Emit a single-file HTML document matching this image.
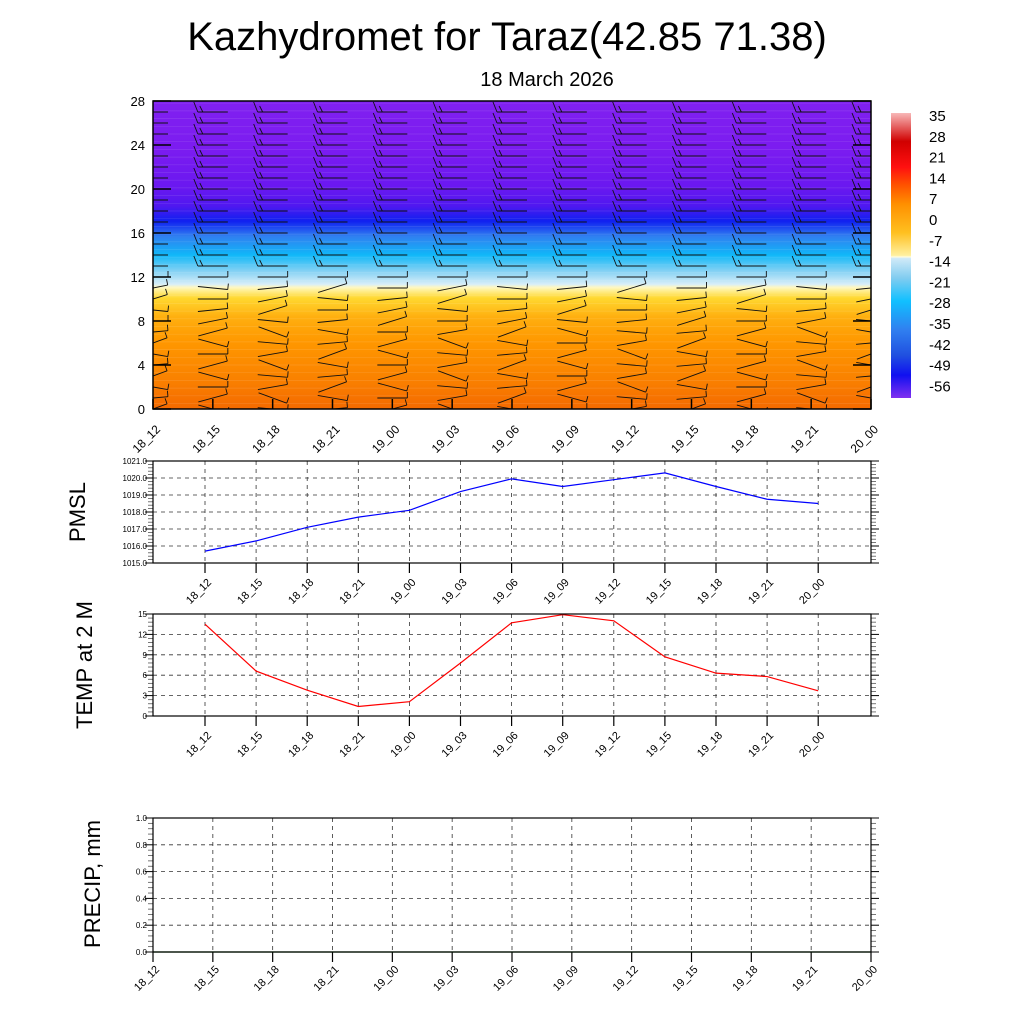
<!DOCTYPE html>
<html><head><meta charset="utf-8">
<style>
body{margin:0;background:#fff;}
svg{display:block;font-family:"Liberation Sans",sans-serif;}
</style></head>
<body>
<svg id="svg" width="1024" height="1024" viewBox="0 0 1024 1024" xmlns="http://www.w3.org/2000/svg">
<defs>
<clipPath id="tclip"><rect x="153" y="101" width="718" height="308"/></clipPath>
<linearGradient id="tg" x1="0" y1="1" x2="0" y2="0">
<stop offset="0" stop-color="#f46a00"/>
<stop offset="0.1" stop-color="#fa8200"/>
<stop offset="0.22" stop-color="#ff9800"/>
<stop offset="0.3" stop-color="#ffb010"/>
<stop offset="0.36" stop-color="#ffd830"/>
<stop offset="0.395" stop-color="#fff8c0"/>
<stop offset="0.405" stop-color="#d8eef8"/>
<stop offset="0.45" stop-color="#80d0f4"/>
<stop offset="0.5" stop-color="#10b8f8"/>
<stop offset="0.56" stop-color="#3080f0"/>
<stop offset="0.61" stop-color="#1020f0"/>
<stop offset="0.66" stop-color="#5018f0"/>
<stop offset="0.72" stop-color="#6a18f0"/>
<stop offset="0.85" stop-color="#7c1cf0"/>
<stop offset="1" stop-color="#8020f0"/>
</linearGradient>
<linearGradient id="cg" x1="0" y1="0" x2="0" y2="1">
<stop offset="0" stop-color="#f8b8b8"/>
<stop offset="0.1" stop-color="#d00000"/>
<stop offset="0.19" stop-color="#ff1010"/>
<stop offset="0.25" stop-color="#ff5000"/>
<stop offset="0.32" stop-color="#ff9000"/>
<stop offset="0.42" stop-color="#ffc020"/>
<stop offset="0.5" stop-color="#fff0a0"/>
<stop offset="0.505" stop-color="#fffde0"/>
<stop offset="0.51" stop-color="#d0eaf8"/>
<stop offset="0.58" stop-color="#80ccf0"/>
<stop offset="0.66" stop-color="#10c0ff"/>
<stop offset="0.76" stop-color="#3080f0"/>
<stop offset="0.85" stop-color="#2050e0"/>
<stop offset="0.92" stop-color="#1010f0"/>
<stop offset="1" stop-color="#8030f0"/>
</linearGradient>
<radialGradient id="hot" cx="0.5" cy="1" r="0.5"><stop offset="0" stop-color="#f05000" stop-opacity="0.8"/><stop offset="1" stop-color="#f05000" stop-opacity="0"/></radialGradient>
</defs>
<text x="507" y="50" font-size="40" text-anchor="middle">Kazhydromet for Taraz(42.85 71.38)</text>
<text x="547" y="86" font-size="20" text-anchor="middle">18 March 2026</text>
<g id="topPanel"></g>
<g id="cbar"></g>
<g id="pmsl"></g>
<g id="temp"></g>
<g id="precip"></g>
</svg>
<script>
const times = ["18_12","18_15","18_18","18_21","19_00","19_03","19_06","19_09","19_12","19_15","19_18","19_21","20_00"];
const pmslVals = [1015.7,1016.3,1017.1,1017.7,1018.1,1019.2,1019.95,1019.5,1019.9,1020.3,1019.5,1018.75,1018.5];
const tempVals = [13.5,6.6,3.8,1.4,2.1,7.8,13.7,14.9,14.0,8.7,6.3,5.8,3.7];
const precipVals = [0,0,0,0,0,0,0,0,0,0,0,0,0];
const pmslTicks = ["1015.0","1016.0","1017.0","1018.0","1019.0","1020.0","1021.0"];
const tempTicks = [0,3,6,9,12,15];
const precipTicks = ["0.0","0.2","0.4","0.6","0.8","1.0"];
const heightTicks = [0,4,8,12,16,20,24,28];
const cbarLabels = [35,28,21,14,7,0,-7,-14,-21,-28,-35,-42,-49,-56];

const NS="http://www.w3.org/2000/svg";
function mk(parent,tag,attrs,txt){const e=document.createElementNS(NS,tag);for(const k in attrs)e.setAttribute(k,attrs[k]);if(txt!==undefined)e.textContent=txt;parent.appendChild(e);return e;}

// ---- top panel ----
const topG=document.getElementById('topPanel');
const TX0=153,TX1=871,TY0=101,TY1=409;
const hy=v=>TY1-(v/28)*(TY1-TY0);
const tx=i=>TX0+i*(TX1-TX0)/12;
const inner=mk(topG,'g',{'clip-path':'url(#tclip)'});
let r=mk(inner,'rect',{x:TX0,y:TY0,width:TX1-TX0,height:TY1-TY0,fill:'url(#tg)'});


let h=mk(inner,'ellipse',{cx:580,cy:412,rx:110,ry:24,fill:'url(#hot)'});


let h2=mk(inner,'ellipse',{cx:165,cy:405,rx:40,ry:25,fill:'url(#hot)'});


for(let v=0.5;v<28;v+=0.7){mk(inner,'line',{x1:TX0,x2:TX1,y1:hy(v),y2:hy(v),stroke:'#fff','stroke-opacity':0.12,'stroke-width':0.7});}
const barbs=mk(inner,'g',{});


for(let i=0;i<13;i++){
  for(let lv=0;lv<=28;lv++){
    const cx=tx(i), cy=hy(lv);
    let ang = lv>=12 ? 0 : (lv>=8 ? -0.1+0.1*((i*3+lv)%5-2) : 0.35*(((i*7+lv*3)%9)-4)/4);
    const L=15, c=Math.cos(ang), s=Math.sin(ang);
    const x1=cx-L*c,y1=cy-L*s,x2=cx+L*c,y2=cy+L*s;
    mk(barbs,'line',{x1:x1,y1:y1,x2:x2,y2:y2,stroke:'#111','stroke-width':0.9});
    if(lv>=13){mk(barbs,'line',{x1:x1,y1:y1,x2:x1-4,y2:y1-10,stroke:'#111','stroke-width':0.9});
      mk(barbs,'line',{x1:x1+5,y1:y1,x2:x1+2,y2:y1-6,stroke:'#111','stroke-width':0.9});}
    else {mk(barbs,'line',{x1:x2,y1:y2,x2:x2+s*6,y2:y2-6*c,stroke:'#111','stroke-width':0.9});}
  }
}
mk(topG,'rect',{x:TX0,y:TY0,width:TX1-TX0,height:TY1-TY0,fill:'none',stroke:'#000','stroke-width':1.5});
heightTicks.forEach(v=>{
  const t=mk(topG,'text',{x:TX0-8,y:hy(v)+5,'font-size':13,'text-anchor':'end'},v);
  
  
  mk(topG,'line',{x1:TX0,x2:TX0+18,y1:hy(v),y2:hy(v),stroke:'#000','stroke-width':1.5});
  mk(topG,'line',{x1:TX1,x2:TX1-18,y1:hy(v),y2:hy(v),stroke:'#000','stroke-width':1.5});
});
times.forEach((t,i)=>{
  const x=tx(i);
  mk(topG,'line',{x1:x,x2:x,y1:TY1,y2:TY1-10,stroke:'#000','stroke-width':1.5});
  const ly=TY1+21;
  const e=mk(topG,'text',{x:x+8,y:ly,'font-size':12,'text-anchor':'end',transform:`rotate(-45 ${x+8} ${ly})`},t);
  
  
});

// ---- colorbar ----
const cb=document.getElementById('cbar');
const cr=mk(cb,'rect',{x:891,y:113,width:20,height:285,fill:'url(#cg)'});


cbarLabels.forEach((v,i)=>{
  const e=mk(cb,'text',{x:929,y:121+i*20.8,'font-size':15},v);
  
  
});

// ---- line panels ----
function panel(gid,X0,X1,Y0,Y1,vmin,vmax,ticks,vals,color,title,titleY,nx,labelsAtEdges,minorN){
  const g=document.getElementById(gid);
  const sy=v=>Y1-(v-vmin)/(vmax-vmin)*(Y1-Y0);
  const sx=labelsAtEdges?(i=>X0+i*(X1-X0)/12):(i=>205+i*51.1);
  const bg=mk(g,'rect',{x:X0,y:Y0,width:X1-X0,height:Y1-Y0,fill:'#fff'});
  
  
  const nt=ticks.length;
  for(let k=0;k<nt;k++){
    const v=vmin+k*(vmax-vmin)/(nt-1), y=sy(v);
    if(k>0&&k<nt-1)mk(g,'line',{x1:X0,x2:X1,y1:y,y2:y,stroke:'#333','stroke-width':0.8,'stroke-dasharray':'4,4'});
    mk(g,'line',{x1:X0-8,x2:X0,y1:y,y2:y,stroke:'#000'});
    mk(g,'line',{x1:X1,x2:X1+8,y1:y,y2:y,stroke:'#000'});
    const e=mk(g,'text',{x:X0-6,y:y+3,'font-size':8,'text-anchor':'end'},ticks[k]);
    
    
    if(k<nt-1)for(let m=1;m<minorN;m++){const ym=y-(m/minorN)*((Y1-Y0)/(nt-1));
      mk(g,'line',{x1:X0-5,x2:X0,y1:ym,y2:ym,stroke:'#555','stroke-width':0.8});
      mk(g,'line',{x1:X1,x2:X1+5,y1:ym,y2:ym,stroke:'#555','stroke-width':0.8});}
  }
  times.forEach((t,i)=>{
    const x=sx(i);
    if(x>X0+1&&x<X1-1)mk(g,'line',{x1:x,x2:x,y1:Y0,y2:Y1,stroke:'#333','stroke-width':0.8,'stroke-dasharray':'4,4'});
    mk(g,'line',{x1:x,x2:x,y1:Y1,y2:Y1+10,stroke:'#000','stroke-width':1.2});
    const ly=Y1+(labelsAtEdges?18:20);
    const e=mk(g,'text',{x:x+7,y:ly,'font-size':11,'text-anchor':'end',transform:`rotate(-45 ${x+7} ${ly})`},t);
    
    
  });
  const pts=vals.map((v,i)=>sx(i)+','+sy(v)).join(' ');
  const pl=mk(g,'polyline',{points:pts,fill:'none',stroke:color,'stroke-width':1.2});
  
  
  mk(g,'rect',{x:X0,y:Y0,width:X1-X0,height:Y1-Y0,fill:'none',stroke:'#000','stroke-width':1.2});
  const tt=mk(g,'text',{x:0,y:0,'font-size':22,'text-anchor':'middle',transform:`translate(${nx} ${titleY}) rotate(-90)`},title);
  
  
}
panel('pmsl',153,871,461,563,1015,1021,pmslTicks,pmslVals,'#0000ff','PMSL',512,85,false,5);
panel('temp',153,871,614,716,0,15,tempTicks,tempVals,'#ff0000','TEMP at 2 M',665,92,false,5);
panel('precip',153,871,818,952,0,1,precipTicks,precipVals,'#006400','PRECIP, mm',884,100,true,5);
</script>
</body></html>
